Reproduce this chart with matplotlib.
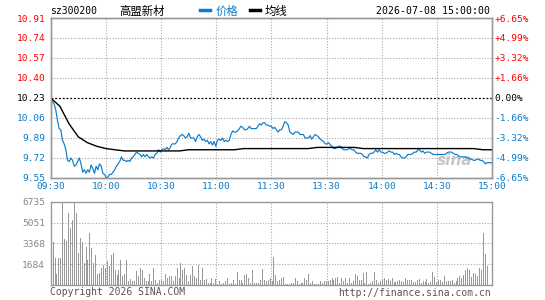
import matplotlib
matplotlib.use('Agg')
import matplotlib.pyplot as plt
from matplotlib.lines import Line2D
import numpy as np

# ---- data ----
code = 'sz300200'
name = '高盟新材'
stamp = '2026-07-08 15:00:00'
prev_close = 10.23

price_ticks = [10.91, 10.74, 10.57, 10.40, 10.23, 10.06, 9.89, 9.72, 9.55]
pct_labels = ['+6.65%', '+4.99%', '+3.32%', '+1.66%', '0.00%',
              '-1.66%', '-3.32%', '-4.99%', '-6.65%']
time_labels = ['09:30', '10:00', '10:30', '11:00', '11:30',
               '13:30', '14:00', '14:30', '15:00']
vol_ticks = [1684, 3368, 5051, 6735]

# minute price, 09:30 -> 15:00
price = [
    10.23, 10.20, 10.18, 10.13, 10.04, 9.97, 9.96, 9.87, 9.84, 9.79, 9.70, 9.69, 9.72,
    9.70, 9.65, 9.66, 9.69, 9.72, 9.67, 9.60, 9.62, 9.59, 9.62, 9.60, 9.66, 9.63, 9.59,
    9.65, 9.62, 9.67, 9.65, 9.59, 9.58, 9.55, 9.56, 9.58, 9.58, 9.60, 9.62, 9.65, 9.67,
    9.69, 9.73, 9.70, 9.70, 9.69, 9.70, 9.69, 9.72, 9.73, 9.75, 9.77, 9.76, 9.75, 9.73,
    9.75, 9.73, 9.75, 9.73, 9.72, 9.73, 9.72, 9.75, 9.76, 9.79,
    9.77, 9.79, 9.80, 9.79, 9.81, 9.79, 9.81, 9.84, 9.84, 9.84, 9.86, 9.89, 9.91, 9.92,
    9.91, 9.89, 9.90, 9.93, 9.89, 9.89, 9.89, 9.86, 9.90, 9.92, 9.90, 9.87, 9.88, 9.86,
    9.87, 9.84, 9.86, 9.83, 9.86, 9.82, 9.87, 9.88, 9.87, 9.89, 9.86, 9.87, 9.86, 9.87,
    9.92, 9.95, 9.94, 9.94, 9.95, 9.97, 9.99, 9.98, 9.96, 9.96, 9.97, 9.99, 9.97, 9.97,
    9.97, 9.97, 9.99, 10.01, 10.00, 10.02, 10.02, 10.00, 10.00, 9.99, 9.99, 9.97,
    9.98, 9.96, 9.94, 9.96, 9.96, 9.99, 10.03, 10.02, 10.00, 9.94, 9.93, 9.92, 9.94,
    9.94, 9.94, 9.92, 9.92, 9.92, 9.89, 9.89, 9.89, 9.91, 9.88, 9.90, 9.92, 9.91, 9.90,
    9.88, 9.87, 9.86, 9.84, 9.84, 9.85, 9.83, 9.82, 9.80, 9.80, 9.81, 9.82, 9.82, 9.80,
    9.79, 9.79, 9.79, 9.80, 9.80, 9.79, 9.79, 9.77, 9.76, 9.76, 9.76, 9.75, 9.73, 9.73,
    9.72, 9.75, 9.76, 9.76, 9.77, 9.79, 9.77, 9.79, 9.77, 9.77, 9.76, 9.76,
    9.77, 9.78, 9.77, 9.77, 9.75, 9.76, 9.75, 9.75, 9.73, 9.72, 9.72, 9.73, 9.75, 9.75,
    9.75, 9.76, 9.77, 9.77, 9.79, 9.79, 9.77, 9.78, 9.76, 9.77, 9.77, 9.77, 9.76, 9.75,
    9.75, 9.75, 9.75, 9.75, 9.75, 9.75, 9.75, 9.76, 9.77, 9.77, 9.77, 9.76, 9.75, 9.75,
    9.74, 9.73, 9.73, 9.73, 9.73, 9.72, 9.72, 9.71, 9.71, 9.70, 9.70, 9.71, 9.71, 9.70,
    9.70, 9.69, 9.67, 9.68, 9.68, 9.68, 9.68,
]

# average price line, every 5 minutes
avg_price = [
    10.23, 10.16, 10.01, 9.90, 9.85, 9.82, 9.80, 9.79, 9.78, 9.78, 9.78, 9.78, 9.78,
    9.78, 9.78, 9.79, 9.79, 9.79, 9.79, 9.79, 9.79, 9.80, 9.80, 9.80, 9.80, 9.80, 9.80,
    9.80, 9.80, 9.81, 9.81, 9.81, 9.81, 9.81, 9.80, 9.80, 9.80, 9.80, 9.80, 9.80, 9.80,
    9.80, 9.80, 9.80, 9.80, 9.80, 9.80, 9.79, 9.79,
]

volume = [
    850, 3520, 2190, 910, 2190, 2190, 6735, 3740, 3580, 5790, 4590, 5260, 6735, 5790,
    2590, 3790, 3520, 1790, 3120, 2060, 4190, 2990, 1790, 2460, 910, 990, 1390, 1660,
    1390, 1920, 1520, 2460, 2590, 1260, 850, 1260, 2060, 720, 910, 2060, 370, 530, 320,
    320, 1120, 720, 1390, 1260, 590, 370, 370, 910, 320, 1390, 450, 190, 450, 450, 320,
    910, 590, 720, 720, 320, 720, 1390, 590, 1790, 1260, 1390, 850, 320, 850, 1520, 720,
    590, 1660, 450, 1390, 450, 510, 190, 190, 590, 190, 510, 110, 320, 110, 190, 320,
    590, 110, 190, 450, 110, 1070, 450, 450, 190, 850, 910, 590, 190, 1260, 190, 190,
    190, 450, 1310, 450, 320, 450, 590,
    320, 2240, 850, 320, 450, 590, 640, 110, 110, 110, 190, 190, 590, 370, 110, 190,
    190, 590, 450, 910, 190, 320, 110, 110, 110, 320, 190, 320, 370, 370, 450, 590, 450,
    590, 640, 190, 590, 320, 590, 190, 590, 190, 320, 910, 720, 450, 450, 990, 190, 1070,
    110, 190, 370, 1070, 450, 190, 320, 510, 590, 450, 530, 370, 590, 270, 270, 370, 450,
    370, 270, 590, 450, 450, 450, 270, 270, 450, 530, 190, 370, 270, 530, 190, 270, 1070,
    690, 270, 450, 450, 270, 720, 370, 370, 370, 450, 190, 370, 590, 720, 590, 850, 1260,
    1390, 1260, 640, 990, 910, 720, 1390, 1260, 4190, 2510, 1520,
]

# ---- style ----
BLUE = '#0a7cc8'
RED = '#ff0000'
GRAY = '#999999'
GRID = '#aaaaaa'
MONO = 'DejaVu Sans Mono'
CJK = ['Noto Sans CJK SC', 'DejaVu Sans']
DOT = (0, (1, 1.5))

fig = plt.figure(figsize=(5.45, 3.0), dpi=100)
fig.patch.set_facecolor('white')

ax = fig.add_axes([0.093, 0.4067, 0.8098, 0.5333])
axv = fig.add_axes([0.093, 0.049, 0.8098, 0.2787])

t_price = np.linspace(0, 240, len(price))
t_avg = np.arange(0, 241, 5)
t_vol = np.linspace(0, 237, len(volume))

# price panel
ax.plot(t_price, price, color=BLUE, lw=0.85, zorder=3)
ax.plot(t_avg, avg_price, color='black', lw=1.0, zorder=3)
ax.axhline(prev_close, color='black', lw=0.9, ls=(0, (1.5, 1.5)), zorder=2)
ax.set_xlim(0, 240)
ax.set_ylim(min(price_ticks), max(price_ticks))

for x in range(30, 240, 30):
    ax.axvline(x, color=GRID, lw=0.8, ls=DOT, zorder=1)
    axv.axvline(x, color=GRID, lw=0.8, ls=DOT, zorder=1)
for y in price_ticks[1:-1]:
    if y != prev_close:
        ax.axhline(y, color=GRID, lw=0.8, ls=DOT, zorder=1)

ax.set_yticks(price_ticks)
ax.set_yticklabels([f'{v:.2f}' for v in price_ticks], family=MONO, fontsize=6.8)
ax.tick_params(axis='y', length=0, pad=4)
for lab, v in zip(ax.get_yticklabels(), price_ticks):
    lab.set_color(RED if v > prev_close else ('black' if v == prev_close else BLUE))

ax.set_xticks(range(0, 241, 30))
ax.set_xticklabels(time_labels, family=MONO, fontsize=6.8, color=BLUE)
ax.tick_params(axis='x', length=0, pad=3)

axr = ax.twinx()
axr.set_ylim(ax.get_ylim())
axr.set_yticks(price_ticks)
axr.set_yticklabels(pct_labels, family=MONO, fontsize=6.8)
axr.tick_params(axis='y', length=0, pad=2)
for lab, v in zip(axr.get_yticklabels(), price_ticks):
    lab.set_color(RED if v > prev_close else ('black' if v == prev_close else BLUE))

for a in (ax, axr, axv):
    for s in a.spines.values():
        s.set_color(GRAY)
        s.set_linewidth(1.0)

# sina watermark
ax.text(0.955, 0.06, 'sina', transform=ax.transAxes, ha='right', va='bottom',
        fontsize=11, fontweight='bold', style='italic', color='#bbbbbb', alpha=0.8,
        family='DejaVu Sans', zorder=2)

# volume panel
axv.vlines(t_vol, 0, volume, color=GRAY, lw=0.55, antialiased=False, zorder=2)
axv.set_xlim(0, 240)
axv.set_ylim(0, max(vol_ticks))
for y in vol_ticks[:-1]:
    axv.axhline(y, color=GRID, lw=0.8, ls=DOT, zorder=1)
axv.set_xticks([])
axv.set_yticks(vol_ticks)
axv.set_yticklabels([str(v) for v in vol_ticks], family=MONO, fontsize=6.8, color='#888888')
axv.tick_params(axis='y', length=0, pad=4)

# header
fig.text(50 / 545, 1 - 11 / 300, code, family=MONO, fontsize=7, va='center', ha='left')
fig.text(119 / 545, 1 - 11 / 300, name, family=CJK, fontsize=8.2, va='center', ha='left')
fig.add_artist(Line2D([200 / 545, 210 / 545], [1 - 10 / 300] * 2, color=BLUE, lw=2.5))
fig.text(216 / 545, 1 - 11 / 300, '价格', family=CJK, fontsize=8.2, va='center',
         ha='left', color=BLUE)
fig.add_artist(Line2D([250 / 545, 260 / 545], [1 - 10 / 300] * 2, color='black', lw=2.5))
fig.text(265 / 545, 1 - 11 / 300, '均线', family=CJK, fontsize=8.2, va='center', ha='left')
fig.text(490 / 545, 1 - 11 / 300, stamp, family=MONO, fontsize=7.1, va='center', ha='right')

# footer
fig.text(50 / 545, 1 - 292 / 300, 'Copyright 2026 SINA.COM', family=MONO, fontsize=7,
         va='center', ha='left', color='#555555')
fig.text(491 / 545, 1 - 293 / 300, 'http://finance.sina.com.cn', family=MONO, fontsize=7,
         va='center', ha='right', color='#555555')

fig.savefig('out.png', dpi=100, facecolor='white')
